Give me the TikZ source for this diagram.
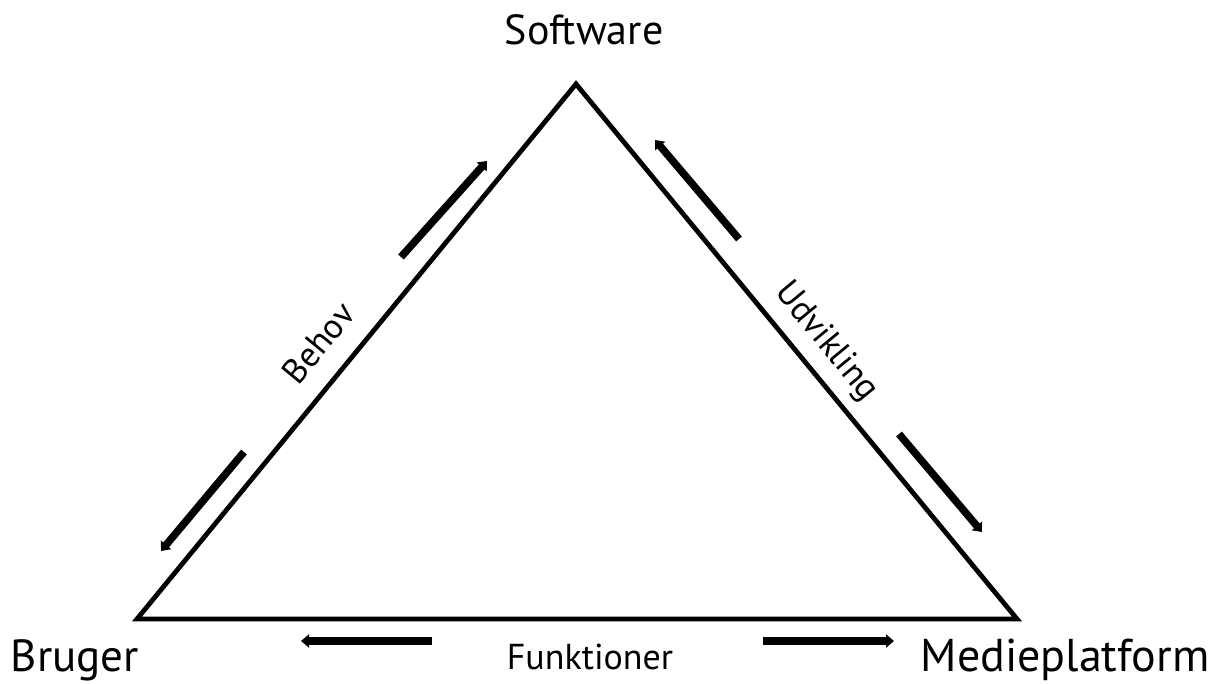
\documentclass[tikz,border=0pt]{standalone}
\usepackage{fontspec}
\setmainfont{PT Sans}
\usetikzlibrary{arrows.meta}
\tikzset{
  edge/.style={line width=4.8pt, line join=miter},
  flow/.style={line width=7.5pt, -{Triangle[width=13pt,length=8pt]}},
  corner/.style={anchor=base, inner sep=0pt},
  side/.style={inner sep=0pt}
}
\begin{document}
\begin{tikzpicture}[x=1pt,y=-1pt]
  \useasboundingbox (0,0) rectangle (1221,684);
  % triangle corners
  \coordinate (B) at (137,619);
  \coordinate (S) at (576,84);
  \coordinate (M) at (1017,619);
  \draw[edge] (B) -- (S) -- (M) -- cycle;

  % corner labels
  \node[corner, font=\fontsize{42}{50}\selectfont] (lS) at (584,45) {Software};
  \node[corner, font=\fontsize{45}{54}\selectfont] (lB) at (75,671) {Bruger};
  \node[corner, font=\fontsize{46}{55}\selectfont] (lM) at (1065,671) {Medieplatform};
  \node[corner, font=\fontsize{36}{43}\selectfont] (lF) at (590,669) {Funktioner};

  % side labels
  \node[side, rotate=50.6, font=\fontsize{35}{42}\selectfont] (lBe) at (318,343) {Behov};
  \node[side, rotate=-50.5, font=\fontsize{35}{42}\selectfont] (lU) at (826,342) {Udvikling};

  % arrow end points
  \coordinate (a1s) at (401,257); \coordinate (a1e) at (487,161);
  \coordinate (a2s) at (244,452); \coordinate (a2e) at (161,551);
  \coordinate (a3s) at (739,239); \coordinate (a3e) at (655,140);
  \coordinate (a4s) at (899,434); \coordinate (a4e) at (982,532);
  \coordinate (a5s) at (432,641); \coordinate (a5e) at (301,641);
  \coordinate (a6s) at (763,641); \coordinate (a6e) at (894,641);

  \draw[flow] (a1s) -- (a1e);
  \draw[flow] (a2s) -- (a2e);
  \draw[flow] (a3s) -- (a3e);
  \draw[flow] (a4s) -- (a4e);
  \draw[flow] (a5s) -- (a5e);
  \draw[flow] (a6s) -- (a6e);
\end{tikzpicture}
\end{document}
